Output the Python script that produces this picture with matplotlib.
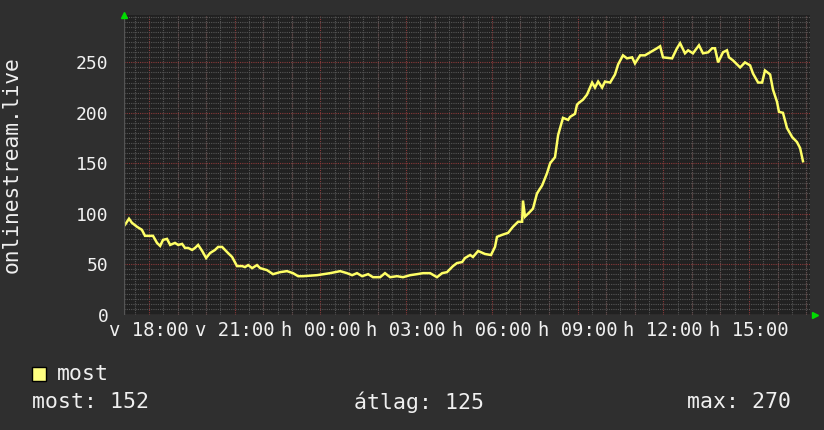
import matplotlib
matplotlib.use("Agg")
import matplotlib.pyplot as plt
from matplotlib.ticker import MultipleLocator, FixedLocator

# idő (óra, vasárnap 00:00-tól) és nézőszám
hours = [17.16, 17.30, 17.40, 17.58, 17.75, 17.86, 18.14, 18.28, 18.39, 18.49,
         18.63, 18.74, 18.91, 19.02, 19.16, 19.26, 19.37, 19.51, 19.61, 19.72,
         19.86, 20.00, 20.14, 20.31, 20.42, 20.56, 20.73, 20.91, 21.08, 21.26,
         21.36, 21.47, 21.61, 21.78, 21.89, 22.13, 22.34, 22.59, 22.83, 23.04,
         23.22, 23.39, 23.88, 24.34, 24.69, 24.93, 25.11, 25.28, 25.46, 25.67,
         25.84, 26.09, 26.26, 26.44, 26.68, 26.89, 27.14, 27.38, 27.59, 27.84,
         28.08, 28.26, 28.43, 28.64, 28.78, 28.96, 29.06, 29.24, 29.34, 29.52,
         29.76, 29.97, 30.11, 30.18, 30.36, 30.57, 30.74, 30.92, 31.06, 31.09,
         31.16, 31.34, 31.44, 31.58, 31.76, 31.93, 32.04, 32.21, 32.32, 32.49,
         32.67, 32.74, 32.91, 32.98, 33.05, 33.19, 33.33, 33.51, 33.61, 33.72,
         33.86, 33.96, 34.14, 34.31, 34.42, 34.59, 34.73, 34.91, 35.01, 35.19,
         35.36, 35.54, 35.78, 35.89, 35.99, 36.31, 36.48, 36.59, 36.76, 36.87,
         37.04, 37.25, 37.39, 37.57, 37.71, 37.81, 37.92, 38.09, 38.23, 38.30,
         38.44, 38.69, 38.86, 39.04, 39.14, 39.32, 39.46, 39.56, 39.74, 39.84,
         39.98, 40.05, 40.19, 40.33, 40.51, 40.68, 40.79, 40.89]
viewers = [89, 95, 91, 87, 84, 78, 78, 71, 68, 74,
           75, 69, 71, 69, 70, 66, 66, 64, 66, 69,
           63, 56, 61, 64, 67, 67, 62, 57, 48, 48,
           47, 49, 46, 49, 46, 44, 40, 42, 43, 41,
           38, 38, 39, 41, 43, 41, 39, 41, 38, 40,
           37, 37, 41, 37, 38, 37, 39, 40, 41, 41,
           37, 41, 42, 48, 51, 52, 56, 59, 57, 63,
           60, 59, 67, 77, 79, 81, 87, 92, 92, 113,
           97, 102, 105, 120, 128, 140, 150, 156, 178, 195,
           193, 196, 199, 208, 210, 213, 218, 230, 225, 231,
           225, 231, 230, 238, 248, 257, 254, 255, 249, 257,
           257, 260, 264, 266, 255, 254, 264, 269, 259, 262,
           259, 267, 259, 260, 264, 264, 250, 260, 262, 255,
           252, 245, 250, 247, 239, 230, 230, 242, 238, 223,
           211, 201, 200, 185, 176, 171, 165, 152]

tick_hours = [18, 21, 24, 27, 30, 33, 36, 39]
tick_labels = ['v 18:00', 'v 21:00', 'h 00:00', 'h 03:00',
               'h 06:00', 'h 09:00', 'h 12:00', 'h 15:00']
y_label = 'onlinestream.live'
legend_name = 'most'
stats = [('most: 152', 'left'), ('átlag: 125', 'center'), ('max: 270', 'right')]

bg = '#2f2f2f'
canvas = '#212121'
fg = '#f0f0f0'
line_col = '#ffff66'

plt.rcParams['font.family'] = ['DejaVu Sans Mono', 'DejaVu Sans']

fig = plt.figure(figsize=(8.24, 4.30), dpi=100, facecolor=bg)
ax = fig.add_axes([124 / 824, 1 - 314.5 / 430, 686 / 824, 299.5 / 430])
ax.set_facecolor(canvas)

ax.plot(hours, viewers, color=line_col, lw=1.8, solid_joinstyle='miter')

ax.set_xlim(17.125, 41.136)
ax.set_ylim(0, 297)

ax.xaxis.set_major_locator(FixedLocator(tick_hours))
ax.set_xticklabels(tick_labels)
ax.xaxis.set_minor_locator(MultipleLocator(0.5))
ax.yaxis.set_major_locator(MultipleLocator(50))
ax.yaxis.set_minor_locator(MultipleLocator(5))

# rács: szürke pontozott, piros főrács
ax.grid(which='minor', color='#555555', lw=0.8, ls=(0, (1, 1)))
ax.grid(which='major', axis='y', color='#8a3a3a', lw=0.8, ls=(0, (1, 1)))
for h in range(18, 42):
    ax.axvline(h, color='#8a3a3a', lw=0.8, ls=(0, (1, 1)), zorder=0.5)
ax.set_axisbelow(True)

ax.tick_params(which='both', length=0, colors=fg, labelsize=13)
ax.tick_params(axis='x', pad=5, labelsize=13.6)
ax.tick_params(axis='y', pad=11)
for s in ax.spines.values():
    s.set_visible(False)
ax.axhline(0, color='#555555', lw=1)
ax.axvline(17.125, color='#555555', lw=1)

# zöld nyilak a tengelyek végén
ax.plot([0], [1], marker='^', color='#00dd00', ms=5, transform=ax.transAxes, clip_on=False)
ax.plot([1.007], [0], marker='>', color='#00dd00', ms=5, transform=ax.transAxes, clip_on=False)

fig.text(12 / 824, 1 - 165 / 430, y_label, rotation=90, ha='center', va='center',
         color=fg, fontsize=15.3)

# jelmagyarázat
fig.patches.append(plt.Rectangle((32 / 824, 1 - 381 / 430), 14 / 824, 14 / 430,
                                 transform=fig.transFigure, facecolor='#ffff80',
                                 edgecolor='black', lw=1))
fig.text(57 / 824, 1 - 374 / 430, legend_name, ha='left', va='center', color=fg, fontsize=15.5)
xs = {'left': 32 / 824, 'center': 419 / 824, 'right': 791 / 824}
for txt, pos in stats:
    fig.text(xs[pos], 1 - 402 / 430, txt, ha=pos, va='center', color=fg, fontsize=15.5)

fig.savefig('out.png', dpi=100, facecolor=bg)
